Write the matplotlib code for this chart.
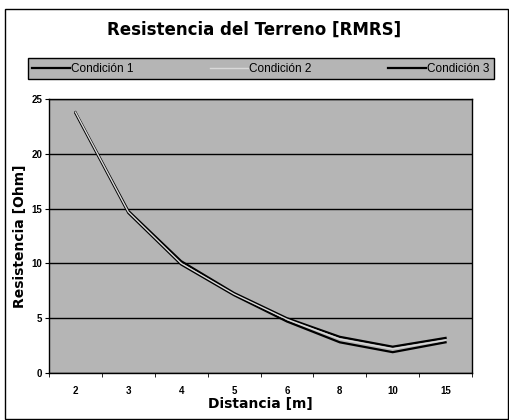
import matplotlib.pyplot as plt
from matplotlib.patches import Rectangle

plt.rcParams['font.family'] = ['Liberation Sans', 'DejaVu Sans']

distancia = ['2', '3', '4', '5', '6', '8', '10', '15']
condicion_1 = [23.8, 14.8, 10.2, 7.3, 5.0, 3.3, 2.4, 3.2]
condicion_2 = [23.8, 14.7, 10.0, 7.2, 4.9, 3.1, 2.2, 3.0]
condicion_3 = [23.7, 14.6, 9.9, 7.1, 4.7, 2.8, 1.9, 2.8]

bg = '#b5b5b5'
wide = ['DejaVu Sans']

fig = plt.figure(figsize=(5.09, 4.2), dpi=100)
ax = fig.add_axes([49 / 509, 1 - 373 / 420, 423 / 509, 274 / 420])
ax.set_facecolor(bg)

x = range(len(distancia))
ax.plot(x, condicion_1, color='black', lw=1.6, label='Condición 1', zorder=3)
ax.plot(x, condicion_2, color='#d9d9d9', lw=1.0, label='Condición 2', zorder=4)
ax.plot(x, condicion_3, color='black', lw=1.6, label='Condición 3', zorder=3)

ax.set_xlim(-0.5, len(distancia) - 0.5)
ax.set_ylim(0, 25)
ax.set_yticks([0, 5, 10, 15, 20, 25])
ax.set_xticks(list(x))
ax.set_xticklabels(distancia, fontsize=7, fontweight='bold')
ax.set_xticks([i - 0.5 for i in range(len(distancia) + 1)], minor=True)
ax.tick_params(axis='x', which='major', length=0, pad=9)
ax.tick_params(axis='x', which='minor', length=3, direction='out')
ax.tick_params(axis='y', length=3, direction='out', labelsize=7, pad=2)
for lbl in ax.get_yticklabels():
    lbl.set_fontweight('bold')
ax.grid(axis='y', color='black', lw=1.0)
ax.set_axisbelow(True)
for s in ax.spines.values():
    s.set_linewidth(1.0)

ax.set_xlabel('Distancia [m]', fontsize=10, fontweight='bold', family=wide, labelpad=1)
ax.set_ylabel('Resistencia [Ohm]', fontsize=10, fontweight='bold', family=wide, labelpad=3)

fig.text(0.5, 1 - 30 / 420, 'Resistencia del Terreno [RMRS]', ha='center', va='center',
         fontsize=12, fontweight='bold', family=wide)

leg = fig.legend(loc='lower left', bbox_to_anchor=(24 / 509, 1 - 83 / 420, 474 / 509, 41 / 420),
                 mode='expand', ncol=3, fontsize=8.5, frameon=True, fancybox=False,
                 handlelength=3.2, handletextpad=0.1, borderaxespad=0.3)
leg.get_frame().set_facecolor(bg)
leg.get_frame().set_edgecolor('black')
leg.get_frame().set_alpha(1)

fig.patches.append(Rectangle((5 / 509, 1 / 420), 503 / 509, 410 / 420, transform=fig.transFigure,
                             fill=False, edgecolor='black', lw=1.0))

fig.savefig('out.png', dpi=100)
